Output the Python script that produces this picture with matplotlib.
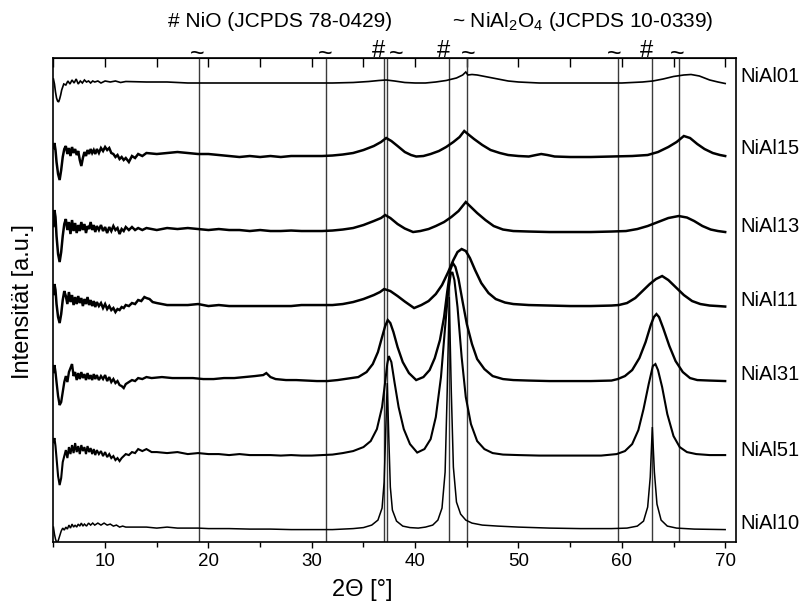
import matplotlib
matplotlib.use('Agg')
import matplotlib.pyplot as plt
from matplotlib.ticker import MultipleLocator

plt.rcParams['font.family'] = ['Liberation Sans', 'DejaVu Sans']
plt.rcParams['mathtext.default'] = 'regular'

# ---------------- data (2theta in degrees, intensity in arbitrary units incl. stacking offset) -------------
NiAl01_x = [5.0, 5.1, 5.2, 5.3, 5.4, 5.5, 5.6, 5.7, 5.8, 5.9, 6.0, 6.2, 6.4, 6.6, 6.8, 7.0, 7.2, 7.4, 7.6,
            7.8, 8.0, 8.2, 8.4, 8.6, 8.8, 9.0, 9.3, 9.6, 10, 10.5, 11, 11.5, 12, 14, 16, 18, 20, 22, 25, 28,
            30, 32, 34, 35.5, 36.5, 37.2, 38, 39, 40, 41, 42, 43, 44, 44.6, 44.9, 45.1, 45.5, 46, 47, 48, 49,
            50, 52, 55, 58, 60, 62, 63, 64, 65, 66, 66.7, 67.5, 68.5, 69.3, 70]
NiAl01_y = [463, 458, 450, 444, 441, 440, 443, 447, 452, 455, 458, 457, 461, 458, 462, 459, 463, 458, 461,
            459, 462, 460, 461, 459, 461, 460, 461, 459, 461, 460, 461, 459.5, 460.5, 460, 460, 459, 459,
            459, 459, 459, 459, 459, 459.5, 460.5, 461.5, 462, 461, 459.5, 459, 459, 460, 461.5, 464, 467,
            470, 467, 467.5, 467, 465, 463, 461, 460, 459, 459, 459, 459, 460, 461, 463, 465.5, 467, 467.5,
            466, 462, 460, 458.5]

NiAl15_x = [5.0, 5.1, 5.2, 5.3, 5.45, 5.6, 5.75, 5.9, 6.05, 6.2, 6.35, 6.5, 6.65, 6.8, 6.95, 7.1, 7.25,
            7.4, 7.55, 7.7, 7.85, 8.0, 8.15, 8.3, 8.45, 8.6, 8.75, 8.9, 9.05, 9.2, 9.4, 9.6, 9.8, 10.0,
            10.2, 10.4, 10.6, 10.8, 11.0, 11.2, 11.4, 11.6, 11.8, 12.0, 12.3, 12.6, 12.9, 13.2, 13.6, 14,
            15, 16, 17, 18, 19, 20, 21, 22, 23, 24, 25, 26, 27, 28, 29, 30, 31, 32, 33, 34, 35, 36, 36.7,
            37.2, 37.7, 38.3, 39, 39.6, 40.1, 40.8, 41.5, 42.3, 43, 43.7, 44.3, 44.75, 45.1, 45.7, 46.5,
            47.3, 48.2, 49, 50, 51, 51.7, 52.2, 52.8, 53.5, 55, 57, 59, 61, 62.5, 63.5, 64.5, 65.3, 66.0,
            66.6, 67.3, 68, 68.8, 69.5, 70]
NiAl15_y = [394, 399, 392, 380, 368, 362, 372, 385, 393, 396, 388, 394, 386, 395, 389, 393, 387, 391, 382,
            376, 384, 390, 386, 392, 388, 393, 389, 392, 388, 393, 389, 394, 391, 395, 392, 394, 389, 388,
            385, 387, 383, 385, 382, 384, 380, 386, 384, 388, 386, 389, 388, 389, 390, 389, 388, 388, 387,
            386, 385, 386, 385, 386, 385, 386, 386, 386, 386, 386.5, 387.5, 389, 392, 396, 400, 404, 401,
            396, 390, 387, 385.5, 386, 388, 391, 395, 400, 405, 411, 408, 403, 397, 392, 389, 387, 386,
            385.5, 387, 388, 387, 385.5, 385, 385, 385.5, 386, 387, 390, 395, 400, 406, 404, 398, 393,
            389, 387, 386]

NiAl13_x = [5.0, 5.1, 5.2, 5.3, 5.45, 5.6, 5.75, 5.9, 6.05, 6.2, 6.35, 6.5, 6.65, 6.8, 6.95, 7.1, 7.25,
            7.4, 7.55, 7.7, 7.85, 8.0, 8.15, 8.3, 8.45, 8.6, 8.75, 8.9, 9.05, 9.2, 9.4, 9.6, 9.8, 10.0,
            10.2, 10.4, 10.6, 10.8, 11.0, 11.2, 11.4, 11.6, 11.8, 12.0, 12.3, 12.6, 12.9, 13.2, 13.6, 14,
            15, 16, 17, 18, 19, 20, 21, 22, 23, 24, 25, 26, 27, 28, 29, 30, 31, 32, 33, 34, 35, 36, 36.7,
            37.1, 37.6, 38.3, 39, 39.8, 40.5, 41.3, 42, 42.8, 43.5, 44.2, 44.9, 45.3, 46, 46.8, 47.6, 48.5,
            49.5, 51, 53, 55, 57, 59, 60.4, 61.5, 62.5, 63.5, 64.5, 65.5, 66.3, 67, 67.8, 68.6, 69.3, 70]
NiAl13_y = [316, 332, 325, 306, 288, 280, 290, 306, 318, 323, 312, 320, 308, 322, 311, 319, 309, 317, 311,
            320, 312, 318, 309, 316, 313, 320, 312, 317, 310, 316, 312, 317, 311, 315, 309, 315, 311, 316,
            312, 314, 308, 313, 311, 315, 312, 315, 312, 314, 312, 314, 312, 314, 313, 314, 313, 312, 313,
            312, 312, 311, 312, 311, 311, 311.5, 311, 311, 311, 311.5, 312.5, 314, 317, 321, 324, 327, 324,
            318, 313.5, 310, 311, 313, 316, 320, 325, 331, 340, 336, 329, 322, 316, 312.5, 311, 310.5, 310,
            310, 310, 310.5, 311, 313, 316, 320, 324, 326, 324.5, 321, 316, 312.5, 311, 310]

NiAl11_x = [5.0, 5.1, 5.2, 5.3, 5.45, 5.6, 5.75, 5.9, 6.05, 6.2, 6.35, 6.5, 6.65, 6.8, 6.95, 7.1, 7.25,
            7.4, 7.55, 7.7, 7.85, 8.0, 8.15, 8.3, 8.45, 8.6, 8.75, 8.9, 9.05, 9.2, 9.4, 9.6, 9.8, 10.0,
            10.2, 10.4, 10.6, 10.8, 11.0, 11.2, 11.4, 11.6, 11.8, 12.0, 12.3, 12.6, 12.9, 13.2, 13.5, 13.8,
            14.0, 14.3, 14.6, 15, 15.5, 16, 17, 18, 19, 20, 21, 22, 23, 24, 25, 26, 27, 28, 29, 30, 31, 32,
            33, 34, 35, 36, 36.6, 37.0, 37.6, 38.3, 39, 39.9, 40.6, 41.3, 42, 42.6, 43.2, 43.7, 44.1, 44.5,
            44.9, 45.3, 45.8, 46.4, 47.1, 47.8, 48.7, 49.5, 51, 53, 55, 57, 59, 59.7, 60.5, 61.3, 62, 62.7,
            63.3, 63.9, 64.5, 65.2, 66, 66.8, 67.6, 68.5, 69.3, 70]
NiAl11_y = [248, 258, 252, 238, 225, 219, 228, 242, 251, 246, 238, 250, 240, 247, 237, 245, 238, 246, 239,
            244, 236, 243, 238, 245, 237, 242, 236, 241, 235, 240, 236, 239, 234, 238, 233, 236, 232, 234,
            230, 233, 232, 235, 234, 237, 236, 239, 238, 242, 241, 245, 244, 243, 240, 239, 238, 237, 237,
            237, 238, 236, 237, 236, 236, 236, 236, 236, 236, 236, 237, 237, 237, 237, 238, 240, 243, 247,
            250, 253, 251, 246, 240.5, 234, 237, 241, 248, 257, 270, 282, 290, 293, 291, 284, 272, 259, 249,
            243, 239.5, 238, 237, 236.5, 236, 236, 236.5, 237, 239, 244, 251, 258, 263, 266, 262, 255, 247,
            241, 238, 236.5, 236, 235.5]

NiAl31_x = [5.0, 5.1, 5.2, 5.3, 5.45, 5.6, 5.75, 5.9, 6.05, 6.2, 6.35, 6.5, 6.65, 6.8, 6.95, 7.1, 7.25,
            7.4, 7.55, 7.7, 7.85, 8.0, 8.15, 8.3, 8.45, 8.6, 8.75, 8.9, 9.05, 9.2, 9.4, 9.6, 9.8, 10.0,
            10.2, 10.4, 10.6, 10.8, 11.0, 11.2, 11.4, 11.6, 11.8, 12.0, 12.3, 12.6, 12.9, 13.2, 13.6, 14,
            14.5, 15.5, 16.5, 17.5, 18.5, 19.5, 20.5, 21.5, 22.5, 23.5, 24.5, 25.3, 25.6, 26.0, 26.5, 27.5,
            28.5, 29.5, 30.5, 31.5, 32.5, 33.5, 34.5, 35.3, 35.9, 36.4, 36.8, 37.1, 37.35, 37.6, 37.9, 38.3,
            38.8, 39.4, 40.1, 40.8, 41.4, 41.9, 42.4, 42.8, 43.1, 43.4, 43.65, 43.9, 44.2, 44.6, 45.0, 45.5,
            46.0, 46.7, 47.5, 48.5, 49.5, 51, 53, 55, 57, 59, 59.6, 60.3, 61, 61.7, 62.3, 62.8, 63.1, 63.35,
            63.6, 64.0, 64.6, 65.2, 65.9, 66.6, 67.3, 68.5, 70]
NiAl31_y = [170, 177, 170, 160, 146, 137, 140, 150, 160, 166, 160, 170, 174, 178, 166, 170, 162, 169, 163,
            170, 164, 168, 162, 169, 163, 167, 162, 168, 163, 167, 162, 166, 163, 167, 161, 165, 160, 163,
            159, 161, 157, 156, 154, 158, 160, 162, 161, 164, 163, 165, 164, 165, 164, 164, 164, 163, 163,
            164, 164, 165, 166, 167, 169, 165, 163, 162, 162, 161.5, 161, 161, 162, 163.5, 165, 170, 178,
            190, 205, 216, 222, 219, 210, 195, 180, 169, 162, 165, 172, 184, 202, 225, 250, 272, 279, 275,
            263, 240, 218, 198, 183, 173, 166, 163, 162, 161.5, 161, 161, 161, 161.5, 163, 166, 172, 184,
            200, 217, 225, 228, 225, 214, 196, 181, 170, 164, 162, 161.5, 161]

NiAl51_x = [5.0, 5.1, 5.2, 5.3, 5.45, 5.6, 5.75, 5.9, 6.05, 6.2, 6.35, 6.5, 6.65, 6.8, 6.95, 7.1, 7.25,
            7.4, 7.55, 7.7, 7.85, 8.0, 8.15, 8.3, 8.45, 8.6, 8.75, 8.9, 9.05, 9.2, 9.4, 9.6, 9.8, 10.0,
            10.2, 10.4, 10.6, 10.8, 11.0, 11.2, 11.4, 11.6, 11.8, 12.0, 12.3, 12.6, 12.9, 13.2, 13.6, 14,
            14.5, 15, 16, 17, 18, 19, 20, 21, 22, 23, 24, 25, 26, 27, 28, 29, 30, 31, 32, 33, 34, 35, 35.7,
            36.3, 36.8, 37.1, 37.3, 37.45, 37.7, 38.0, 38.4, 38.9, 39.5, 40.2, 40.9, 41.5, 42.0, 42.5, 42.9,
            43.2, 43.45, 43.6, 43.8, 44.1, 44.5, 44.9, 45.4, 46.0, 46.7, 47.5, 48.5, 50, 52, 55, 58, 59.5,
            60.3, 61, 61.6, 62.1, 62.6, 63.0, 63.25, 63.5, 63.9, 64.4, 65.0, 65.6, 66.3, 67.2, 68.5, 70]
NiAl51_y = [100, 104, 96, 84, 66, 57, 64, 80, 86, 92, 84, 95, 88, 97, 89, 99, 90, 96, 88, 97, 91, 95, 88,
            96, 90, 94, 88, 93, 87, 92, 88, 91, 86, 90, 85, 88, 84, 86, 82, 84, 81, 84, 86, 88, 87, 90, 89,
            93, 91, 93, 90, 90, 89, 90, 88, 89, 88, 88, 87, 88, 87, 87, 87, 86.5, 87, 86.5, 86.5, 87, 87.5,
            89, 91, 95, 101, 113, 135, 160, 178, 186, 180, 160, 135, 113, 98, 89.5, 93, 103, 125, 165, 215,
            250, 268, 270, 262, 235, 185, 145, 118, 101, 93, 89, 87.5, 87, 86.5, 86.5, 86.5, 88, 91, 98,
            112, 133, 158, 176, 178, 172, 155, 128, 106, 95, 90, 88, 87, 87]

NiAl10_x = [5.0, 5.1, 5.2, 5.3, 5.45, 5.6, 5.75, 5.9, 6.05, 6.2, 6.35, 6.5, 6.65, 6.8, 6.95, 7.1, 7.25,
            7.4, 7.55, 7.7, 7.85, 8.0, 8.2, 8.4, 8.6, 8.8, 9.0, 9.3, 9.6, 9.9, 10.2, 10.5, 10.8, 11.1, 11.4,
            11.7, 12, 13, 14, 15, 16, 17, 18, 19, 20, 22, 24, 26, 28, 30, 32, 33, 34, 35, 35.8, 36.4, 36.8,
            37.0, 37.15, 37.3, 37.45, 37.6, 37.8, 38.2, 38.8, 39.5, 40.3, 41, 41.7, 42.2, 42.6, 42.9, 43.1,
            43.3, 43.5, 43.7, 44.0, 44.4, 44.9, 45.5, 46.5, 48, 50, 53, 56, 59, 60.5, 61.5, 62.1, 62.5,
            62.75, 62.95, 63.15, 63.4, 63.8, 64.4, 65.3, 67, 70]
NiAl10_y = [15, 8, 3, 0, 1, 6, 11, 14, 12, 15, 13, 17, 14, 18, 15, 17, 15, 18, 16, 19, 16, 18, 16, 19, 17,
            19, 17, 19, 17, 19, 17, 18, 16, 17, 15, 16, 15, 15, 15, 14, 15, 14, 14, 14, 13.5, 13.5, 13, 13,
            12.5, 12.5, 12.5, 13, 13.5, 14.5, 17, 22, 34, 60, 110, 159, 105, 55, 32, 21, 16, 14.5, 14, 15,
            17, 22, 34, 70, 150, 245, 150, 75, 40, 28, 22, 19, 17, 16, 15, 14, 13.5, 13.5, 14, 16, 21, 35,
            65, 115, 70, 38, 22, 16, 14, 13, 12.5]

sample_names = ['NiAl01', 'NiAl15', 'NiAl13', 'NiAl11', 'NiAl31', 'NiAl51', 'NiAl10']
label_levels = [465, 394, 316, 242, 168, 92, 19]

nio_positions = [37.25, 43.28, 62.88]                          # JCPDS 78-0429
spinel_positions = [19.07, 31.40, 37.00, 44.99, 59.66, 65.54]  # JCPDS 10-0339
hash_marks = [36.45, 42.75, 62.4]
tilde_marks = [18.9, 31.3, 38.2, 45.1, 59.3, 65.4]

# ---------------- plotting ----------------
fig = plt.figure(figsize=(8.12, 6.03), dpi=100)
ax = fig.add_axes([0.0658, 0.101, 0.840, 0.802])

series = [(NiAl01_x, NiAl01_y, 1.2), (NiAl15_x, NiAl15_y, 1.8), (NiAl13_x, NiAl13_y, 1.8),
          (NiAl11_x, NiAl11_y, 1.8), (NiAl31_x, NiAl31_y, 1.7), (NiAl51_x, NiAl51_y, 1.5),
          (NiAl10_x, NiAl10_y, 1.1)]
for xs, ys, lw in series:
    ax.plot(xs, ys, color='black', lw=lw, zorder=3, solid_joinstyle='miter')

for p in nio_positions + spinel_positions:
    ax.axvline(p, color='#3a3a3a', lw=1.0, zorder=2)

ax.set_xlim(5, 71)
ax.set_ylim(0, 483.5)
ax.set_yticks([])
ax.xaxis.set_major_locator(MultipleLocator(10))
ax.xaxis.set_minor_locator(MultipleLocator(5))
ax.tick_params(axis='x', which='major', direction='out', length=4.5, width=1, labelsize=13.5, pad=3)
ax.tick_params(axis='x', which='minor', direction='out', length=3.5, width=1)
for s in ax.spines.values():
    s.set_linewidth(1.2)

top = ax.secondary_xaxis('top')
top.xaxis.set_major_locator(MultipleLocator(5))
top.tick_params(axis='x', direction='in', length=6.5, width=1, labeltop=False)

fig.text(362 / 812, 1 - 590 / 603, '2\u0398 [\u00b0]', fontsize=17, ha='center', va='center')
fig.text(22.7 / 812, 1 - 301.7 / 603, 'Intensit\u00e4t [a.u.]', fontsize=17, rotation=90,
         ha='center', va='center')

for name, lev in zip(sample_names, label_levels):
    ax.text(71.5, lev, name, fontsize=14.5, ha='left', va='center', clip_on=False)

for h in hash_marks:
    ax.text(h, 485, '#', fontsize=17, ha='center', va='baseline', clip_on=False)
for t in tilde_marks:
    ax.text(t, 481, '~', fontsize=18, ha='center', va='baseline', clip_on=False)

ax.text(26.9, 514.5, '# NiO (JCPDS 78-0429)', fontsize=15, ha='center', va='baseline', clip_on=False)
ax.text(56.2, 514.5, '~ NiAl$_2$O$_4$ (JCPDS 10-0339)', fontsize=15, ha='center', va='baseline',
        clip_on=False)

fig.savefig('out.png', dpi=100)
